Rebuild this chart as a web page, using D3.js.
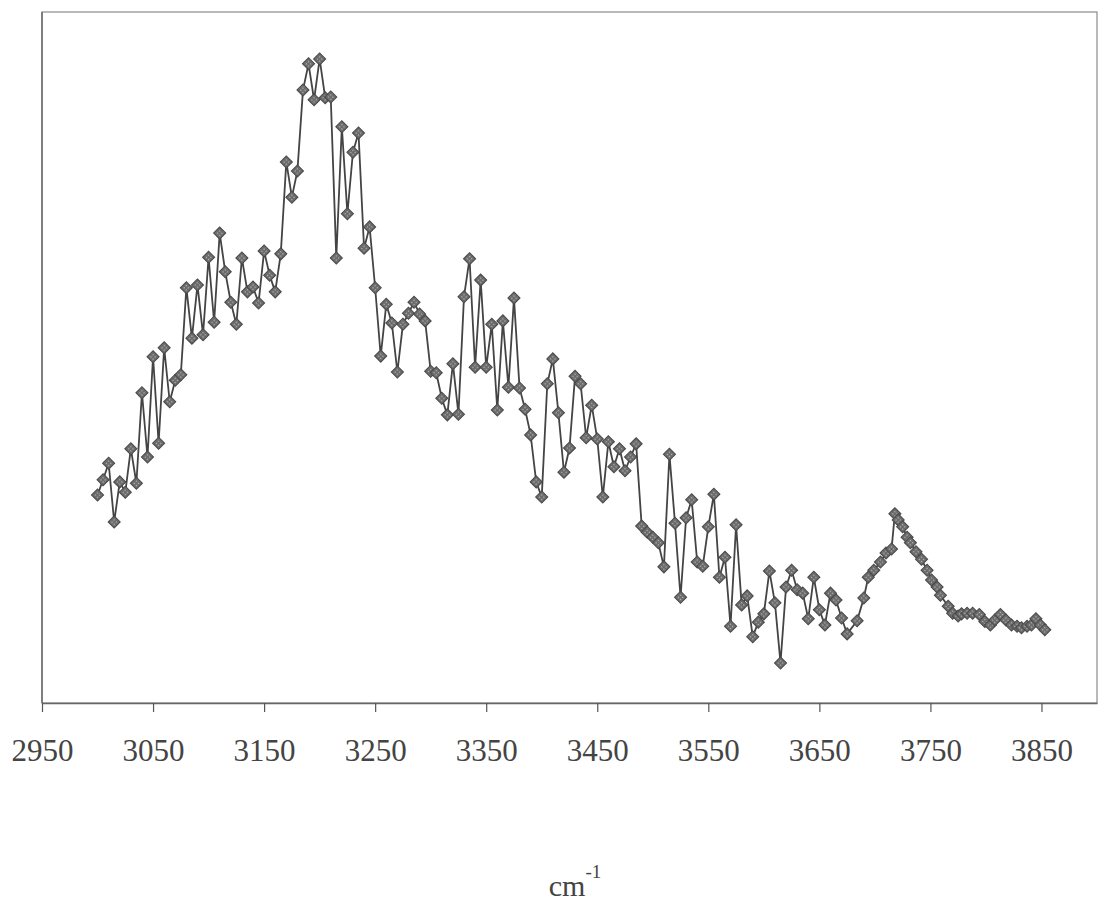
<!DOCTYPE html>
<html lang="en">
<head>
	<title>IR spectrum</title>
	<script src="https://d3js.org/d3.v7.min.js" charset="utf-8"></script>
	<style>
		body {
			margin: 0;
			background: #fff;
		}
		.tick-label, .axis-title {
			font-family: "Liberation Serif", "Times New Roman", serif;
			fill: #444;
		}
	</style>
</head>
<body>
	<script>
		// wavenumbers (cm-1) and absorbance (arbitrary units)
		var wavenumbers = [
			3000, 3005, 3010, 3015, 3020, 3025, 3030, 3035, 3040, 3045,
			3050, 3055, 3060, 3065, 3070, 3075, 3080, 3085, 3090, 3095,
			3100, 3105, 3110, 3115, 3120, 3125, 3130, 3135, 3140, 3145,
			3150, 3155, 3160, 3165, 3170, 3175, 3180, 3185, 3190, 3195,
			3200, 3205, 3210, 3215, 3220, 3225, 3230, 3235, 3240, 3245,
			3250, 3255, 3260, 3265, 3270, 3275, 3280, 3285, 3290, 3295,
			3300, 3305, 3310, 3315, 3320, 3325, 3330, 3335, 3340, 3345,
			3350, 3355, 3360, 3365, 3370, 3375, 3380, 3385, 3390, 3395,
			3400, 3405, 3410, 3415, 3420, 3425, 3430, 3435, 3440, 3445,
			3450, 3455, 3460, 3465, 3470, 3475, 3480, 3485, 3490, 3495,
			3500, 3505, 3510, 3515, 3520, 3525, 3530, 3535, 3540, 3545,
			3550, 3555, 3560, 3565, 3570, 3575, 3580, 3585, 3590, 3595,
			3600, 3605, 3610, 3615, 3620, 3625, 3630, 3635, 3640, 3645,
			3650, 3655, 3660, 3665, 3670, 3675,
			3684, 3690, 3694, 3699, 3705, 3710, 3715, 3718, 3721, 3725,
			3729, 3732, 3737, 3742, 3747, 3751, 3756, 3759, 3766, 3770,
			3775, 3778, 3783, 3788, 3794, 3799, 3804, 3808, 3813, 3818,
			3823, 3828, 3832, 3837, 3841, 3845, 3849, 3853
		];
		var absorbance = [
			30.1, 32.3, 34.7, 26.2, 32.0, 30.5, 36.8, 31.8, 44.9, 35.6,
			50.1, 37.6, 51.4, 43.6, 46.7, 47.5, 60.1, 52.8, 60.5, 53.3,
			64.5, 55.1, 68.0, 62.4, 58.0, 54.8, 64.4, 59.5, 60.2, 57.9,
			65.4, 61.9, 59.5, 65.0, 78.3, 73.2, 77.0, 88.7, 92.5, 87.3,
			93.2, 87.6, 87.7, 64.4, 83.4, 70.8, 79.7, 82.5, 65.8, 68.9,
			60.1, 50.2, 57.7, 55.0, 47.9, 54.8, 56.4, 58.0, 56.3, 55.3,
			48.0, 47.8, 44.1, 41.7, 49.1, 41.8, 58.8, 64.3, 48.6, 61.2,
			48.6, 54.8, 42.4, 55.3, 45.7, 58.6, 45.6, 42.5, 38.8, 32.0,
			29.8, 46.2, 49.8, 42.0, 33.4, 36.9, 47.3, 46.2, 38.4, 43.1,
			38.2, 29.8, 37.8, 34.2, 36.8, 33.6, 35.6, 37.5, 25.6, 24.7,
			24.0, 23.2, 19.7, 36.0, 26.0, 15.3, 26.8, 29.4, 20.4, 19.8,
			25.5, 30.2, 18.2, 21.1, 11.1, 25.8, 14.2, 15.5, 9.6, 11.7,
			12.9, 19.1, 14.5, 5.8, 16.8, 19.2, 16.4, 15.9, 12.2, 18.2,
			13.5, 11.3, 15.9, 14.9, 12.3, 10.0,
			11.9, 15.2, 18.2, 19.2, 20.4, 21.7, 22.3, 27.4, 26.5, 25.5,
			24.0, 23.2, 21.9, 20.8, 19.2, 17.8, 16.8, 15.6, 14.0, 13.0,
			12.6, 12.9, 13.0, 13.0, 12.8, 11.8, 11.3, 12.0, 12.8, 12.0,
			11.3, 11.1, 10.9, 11.1, 11.3, 12.2, 11.3, 10.6
		];
		var xTicks = [2950, 3050, 3150, 3250, 3350, 3450, 3550, 3650, 3750, 3850];

		var width = 1105;
		var height = 902;
		// plot area edges
		var plotLeft = 42, plotRight = 1097, plotTop = 12, plotBottom = 703;

		var svg = d3.select( "body" )
			.append( "svg" )
			.attr( "width", width )
			.attr( "height", height );

		// dithered grey fill like the printed markers
		var pat = svg.append( "defs" )
			.append( "pattern" )
			.attr( "id", "dither" )
			.attr( "width", 3 )
			.attr( "height", 3 )
			.attr( "patternUnits", "userSpaceOnUse" );
		pat.append( "rect" )
			.attr( "width", 3 ).attr( "height", 3 )
			.attr( "fill", "#6a6a6a" );
		pat.append( "rect" )
			.attr( "x", 1 ).attr( "y", 1 )
			.attr( "width", 1.2 ).attr( "height", 1.2 )
			.attr( "fill", "#bdbdbd" );

		var x = d3.scaleLinear()
			.domain( [2950, 3900] )
			.range( [plotLeft, plotRight] );

		var y = d3.scaleLinear()
			.domain( [0, 100] )
			.range( [plotBottom, plotTop] );

		// plot frame: light top/right, darker axes
		svg.append( "rect" )
			.attr( "x", plotLeft )
			.attr( "y", plotTop )
			.attr( "width", plotRight - plotLeft )
			.attr( "height", plotBottom - plotTop )
			.attr( "fill", "none" )
			.attr( "stroke", "#8a8a8a" )
			.attr( "stroke-width", 1.2 );

		svg.append( "line" )
			.attr( "x1", plotLeft ).attr( "x2", plotLeft )
			.attr( "y1", plotTop ).attr( "y2", plotBottom )
			.attr( "stroke", "#666" )
			.attr( "stroke-width", 1.4 );

		// x axis
		var xAxis = d3.axisBottom( x )
			.tickValues( xTicks )
			.tickSizeInner( 9 )
			.tickSizeOuter( 0 )
			.tickFormat( d3.format( "d" ) );

		var gx = svg.append( "g" )
			.attr( "transform", "translate(0," + plotBottom + ")" )
			.call( xAxis );

		gx.select( ".domain" )
			.attr( "stroke", "#666" )
			.attr( "stroke-width", 1.4 );
		gx.selectAll( ".tick line" )
			.attr( "stroke", "#555" )
			.attr( "stroke-width", 1.2 );
		gx.selectAll( ".tick text" )
			.attr( "class", "tick-label" )
			.attr( "y", 58 )
			.attr( "dy", 0 )
			.style( "font-size", "31px" );

		// axis title cm-1
		var title = svg.append( "text" )
			.attr( "class", "axis-title" )
			.attr( "x", 575 )
			.attr( "y", 896 )
			.attr( "text-anchor", "middle" )
			.style( "font-size", "30px" );
		title.append( "tspan" ).text( "cm" );
		title.append( "tspan" )
			.attr( "dy", -18 )
			.style( "font-size", "19px" )
			.text( "-1" );

		var points = wavenumbers.map( function( w, i ) {
			return { w: w, a: absorbance[i] };
		});

		var line = d3.line()
			.x( function( d ) { return x( d.w ); } )
			.y( function( d ) { return y( d.a ); } );

		svg.append( "path" )
			.datum( points )
			.attr( "d", line )
			.attr( "fill", "none" )
			.attr( "stroke", "#444" )
			.attr( "stroke-width", 1.8 );

		// diamond markers
		var diamond = d3.symbol().type( d3.symbolSquare ).size( 72 );

		svg.append( "g" )
			.selectAll( "path" )
			.data( points )
			.enter()
			.append( "path" )
			.attr( "d", diamond )
			.attr( "transform", function( d ) {
				return "translate(" + x( d.w ) + "," + y( d.a ) + ") rotate(45)";
			})
			.attr( "fill", "url(#dither)" )
			.attr( "stroke", "#4a4a4a" )
			.attr( "stroke-width", 1.1 );
	</script>
</body>
</html>
